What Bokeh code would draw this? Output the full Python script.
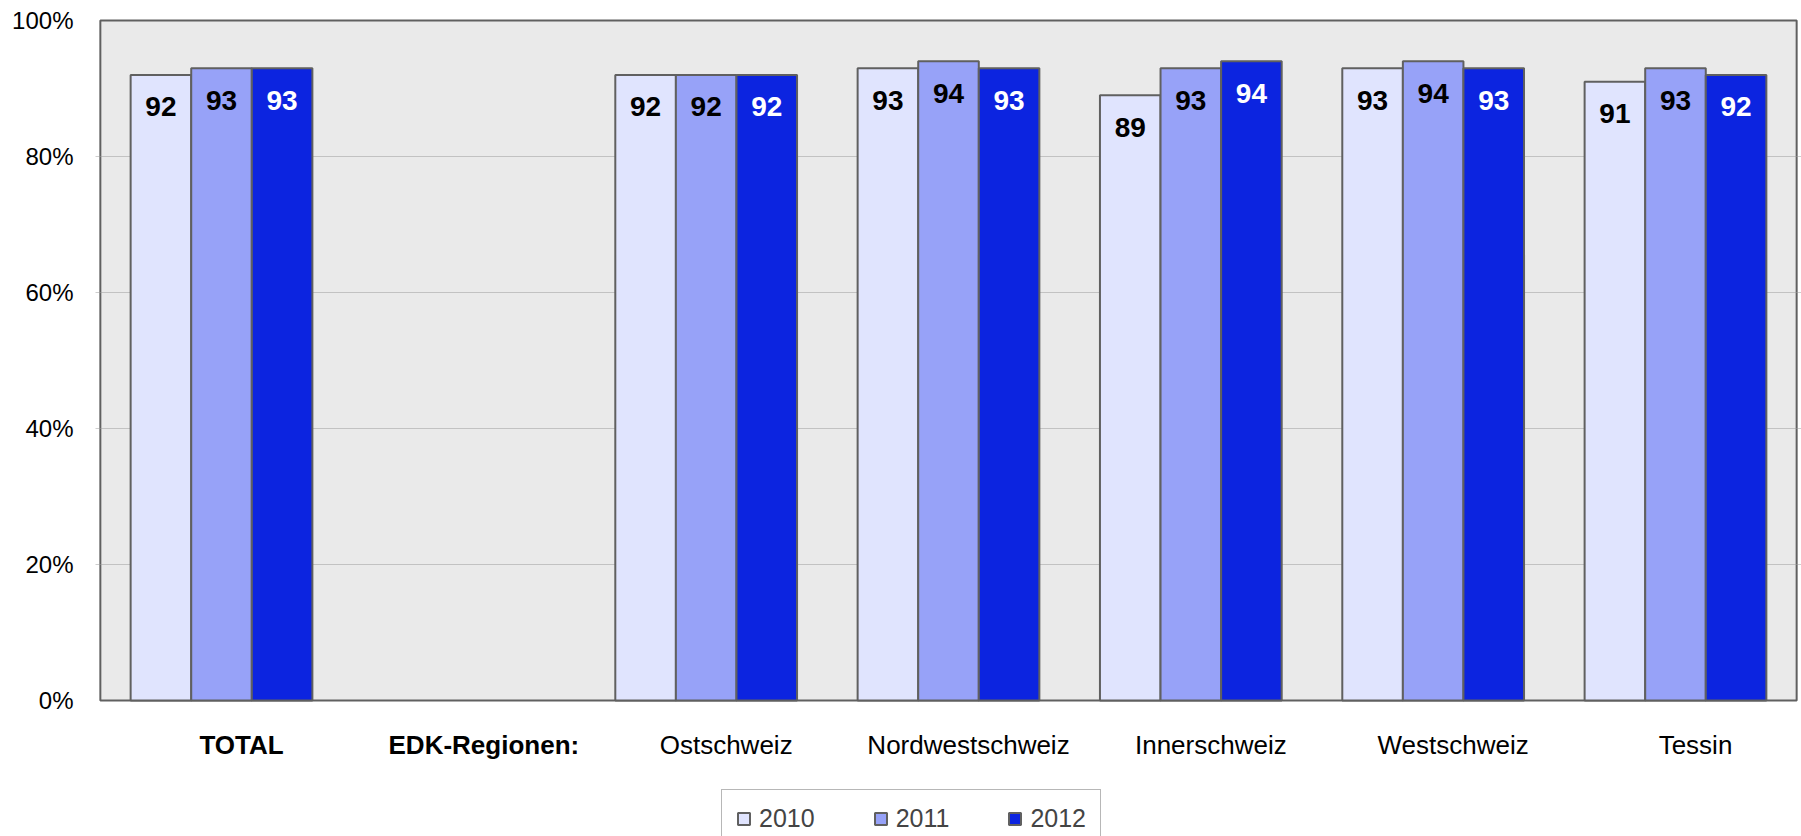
from bokeh.plotting import figure
from bokeh.models import (ColumnDataSource, FactorRange, Range1d, Legend, LegendItem,
                          FixedTicker, PrintfTickFormatter, BoxAnnotation)
from bokeh.transform import dodge
from bokeh.core.properties import value
from bokeh.embed import file_html
from bokeh.resources import INLINE

categories = ["TOTAL", "EDK-Regionen:", "Ostschweiz", "Nordwestschweiz",
              "Innerschweiz", "Westschweiz", "Tessin"]
bold_categories = ["TOTAL", "EDK-Regionen:"]
years = ["2010", "2011", "2012"]
v2010 = [92, None, 92, 93, 89, 93, 91]
v2011 = [93, None, 92, 94, 93, 94, 93]
v2012 = [93, None, 92, 93, 94, 93, 92]
y_ticks = [0, 20, 40, 60, 80, 100]
grid_ticks = [20, 40, 60, 80]

colors = ["#E0E4FE", "#97A2F8", "#0C24E0"]
label_colors = ["black", "black", "white"]
FONT = "Liberation Sans"

# frame extends below the value axis so that category labels and legend
# (drawn as glyph/legend inside the frame) are not clipped
p = figure(width=1801, height=836, output_backend="svg", toolbar_location=None,
           x_range=FactorRange(*categories, range_padding=0.02,
                               range_padding_units="absolute", factor_padding=0),
           y_range=Range1d(-20, 100.3),
           min_border_left=95, min_border_top=18, min_border_right=0,
           min_border_bottom=0,
           background_fill_color="white", border_fill_color="white")

p.outline_line_color = None

plot_bg = BoxAnnotation(left=0, right=len(categories), bottom=min(y_ticks), top=max(y_ticks),
                        fill_color="#EAEAEA", fill_alpha=1,
                        line_color="#606060", line_width=2, line_alpha=1,
                        level="image")
p.add_layout(plot_bg)

p.xgrid.grid_line_color = None
p.ygrid.ticker = FixedTicker(ticks=grid_ticks)
p.ygrid.grid_line_color = "#9A9A9A"
p.ygrid.grid_line_dash = "1 1"
p.ygrid.grid_line_width = 1

p.yaxis.ticker = FixedTicker(ticks=y_ticks)
p.yaxis.formatter = PrintfTickFormatter(format="%d%%")
p.yaxis.axis_line_color = None
p.yaxis.major_tick_line_color = None
p.yaxis.minor_tick_line_color = None
p.yaxis.major_tick_out = 0
p.yaxis.major_tick_in = 0
p.yaxis.minor_tick_out = 0
p.yaxis.minor_tick_in = 0
p.yaxis.major_label_standoff = 22
p.yaxis.major_label_text_font = FONT
p.yaxis.major_label_text_font_size = "24px"
p.yaxis.major_label_text_color = "black"

p.xaxis.visible = False

offsets = [-0.25, 0.0, 0.25]
series = [v2010, v2011, v2012]
renderers = []
for yr, vals, col, lcol, off in zip(years, series, colors, label_colors, offsets):
    cats = [c for c, v in zip(categories, vals) if v is not None]
    vs = [v for v in vals if v is not None]
    src = ColumnDataSource(dict(cat=cats, val=vs, lab=[str(v) for v in vs]))
    r = p.vbar(x=dodge("cat", off, range=p.x_range), top="val", width=0.25,
               source=src, fill_color=col, line_color="#606060", line_width=2)
    renderers.append(r)
    p.text(x=dodge("cat", off, range=p.x_range), y="val", text="lab", source=src,
           text_align="center", text_baseline="middle", y_offset=32,
           text_font=value(FONT), text_font_style="bold", text_font_size="28px",
           text_color=lcol)

# category labels below the value axis
normal_cats = [c for c in categories if c not in bold_categories]
for cats, style in ((bold_categories, "bold"), (normal_cats, "normal")):
    src = ColumnDataSource(dict(x=cats, y=[min(y_ticks)] * len(cats), t=cats))
    p.text(x="x", y="y", text="t", source=src, x_offset=20, y_offset=44,
           text_align="center", text_baseline="middle",
           text_font=value(FONT), text_font_size="26px",
           text_font_style=style, text_color="black")

legend = Legend(items=[LegendItem(label=y, renderers=[r]) for y, r in zip(years, renderers)],
                orientation="horizontal", location=(626, -12),
                glyph_width=15, glyph_height=15, label_standoff=8, spacing=58,
                padding=14, margin=0,
                label_text_font=FONT, label_text_font_size="25px",
                border_line_color="#707070", border_line_width=1.5,
                background_fill_color="white", background_fill_alpha=1)
p.add_layout(legend, "center")

open("out.html", "w").write(file_html(p, INLINE))
